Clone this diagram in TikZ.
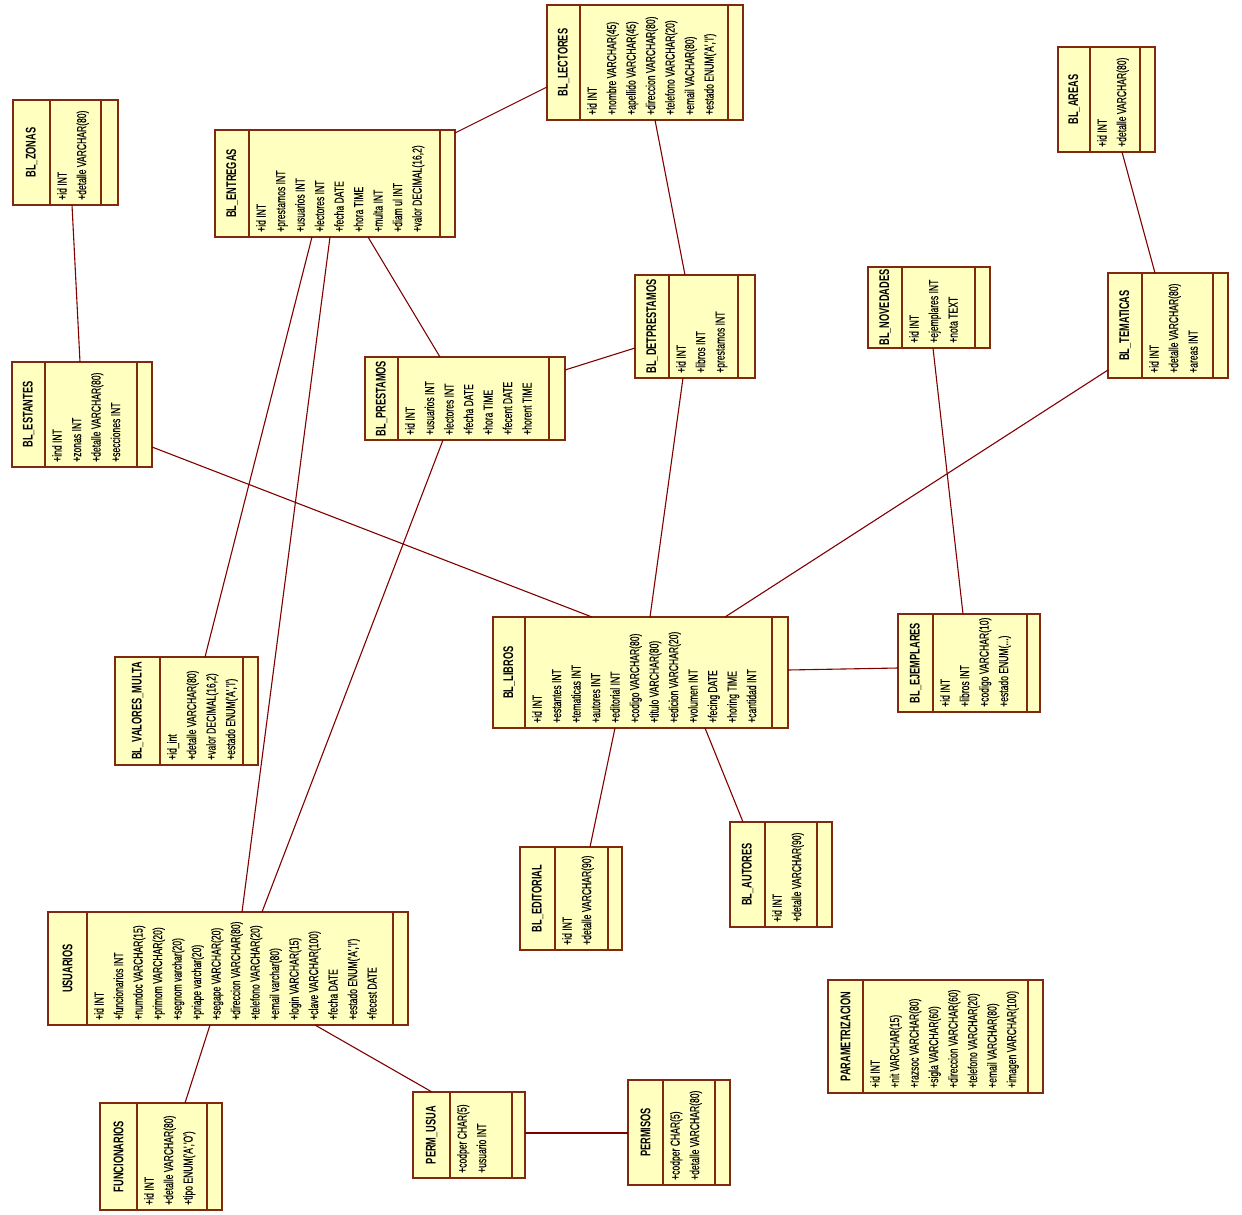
\documentclass[tikz,border=0pt]{standalone}
\usepackage{fontspec}
\newfontfamily\attrfont[FakeStretch=0.66, FakeBold=0.25]{Liberation Sans}
\newfontfamily\titlefont[FakeStretch=0.66]{Liberation Sans}
\definecolor{boxfill}{RGB}{255,255,192}
\definecolor{boxline}{RGB}{128,40,16}
\definecolor{connline}{RGB}{128,0,0}
\tikzset{
  classbox/.style={draw=boxline, fill=boxfill, line width=1.3pt, inner sep=0pt, outer sep=0pt},
  divline/.style={draw=boxline, line width=1.1pt},
  titletext/.style={rotate=90, inner sep=0pt, font={\titlefont\fontsize{14pt}{16pt}\selectfont\bfseries}},
  attrtext/.style={rotate=90, anchor=north west, align=left, inner sep=0pt, font={\attrfont\fontsize{13pt}{19.5pt}\selectfont}},
  conn/.style={draw=connline, line width=1.1pt}
}
% #1 name, #2 left, #3 top, #4 right, #5 bottom, #6 name divider, #7 ops divider, #8 title, #9 attributes
\newcommand\umlclass[9]{%
  \node[classbox, anchor=north west, minimum width={(#4-#2)*1pt}, minimum height={(#5-#3)*1pt}] (#1) at (#2,#3) {};
  \draw[divline] (#6,#3) -- (#6,#5);
  \draw[divline] (#7,#3) -- (#7,#5);
  \node[titletext] (#1-title) at ({(#2+#6)/2},{(#3+#5)/2}) {#8};
  \node[attrtext] (#1-attrs) at ({#6+7},{#5-5}) {#9};
}
\begin{document}
\begin{tikzpicture}[x=1pt,y=-1pt]
\fill[white] (0,0) rectangle (1242,1215);
\useasboundingbox (0,0) rectangle (1242,1215);

\umlclass{lect}{547}{5}{743}{120}{580}{728}{BL\_LECTORES}{+id INT\\+nombre VARCHAR(45)\\+apellido VARCHAR(45)\\+direccion VARCHAR(80)\\+telefono VARCHAR(20)\\+email VACHAR(80)\\+estado ENUM('A','I')}
\umlclass{entr}{215}{130}{455}{237}{249}{440}{BL\_ENTREGAS}{+id INT\\+prestamos INT\\+usuarios INT\\+lectores INT\\+fecha DATE\\+hora TIME\\+multa INT\\+diam ul INT\\+valor DECIMAL(16,2)}
\umlclass{zonas}{13}{100}{118}{205}{50}{101}{BL\_ZONAS}{+id INT\\+detalle VARCHAR(80)}
\umlclass{areas}{1058}{47}{1155}{152}{1090}{1140}{BL\_AREAS}{+id INT\\+detalle VARCHAR(80)}
\umlclass{prest}{365}{357}{565}{440}{398}{549}{BL\_PRESTAMOS}{+id INT\\+usuarios INT\\+lectores INT\\+fecha DATE\\+hora TIME\\+fecent DATE\\+horent TIME}
\umlclass{detp}{635}{275}{755}{378}{669}{738}{BL\_DETPRESTAMOS}{+id INT\\+libros INT\\+prestamos INT}
\umlclass{nov}{868}{267}{990}{348}{902}{975}{BL\_NOVEDADES}{+id INT\\+ejemplares INT\\+nota TEXT}
\umlclass{tem}{1108}{273}{1228}{378}{1142}{1213}{BL\_TEMATICAS}{+id INT\\+detalle VARCHAR(80)\\+areas INT}
\umlclass{est}{12}{362}{152}{467}{45}{137}{BL\_ESTANTES}{+ind INT\\+zonas INT\\+detalle VARCHAR(80)\\+secciones INT}
\umlclass{lib}{493}{617}{788}{728}{525}{772}{BL\_LIBROS}{+id INT\\+estantes INT\\+tematicas INT\\+autores INT\\+editorial INT\\+codigo VARCHAR(80)\\+titulo VARCHAR(80)\\+edicion VARCHAR(20)\\+volumen INT\\+fecing DATE\\+horing TIME\\+cantidad INT}
\umlclass{ejem}{898}{614}{1040}{712}{933}{1027}{BL\_EJEMPLARES}{+id INT\\+libros INT\\+codigo VARCHAR(10)\\+estado ENUM(...)}
\umlclass{vmul}{115}{657}{258}{765}{160}{243}{BL\_VALORES\_MULTA}{+id\_int\\+detalle VARCHAR(80)\\+valor DECIMAL(16,2)\\+estado ENUM('A','I')}
\umlclass{usu}{48}{912}{408}{1025}{87}{393}{USUARIOS}{+id INT\\+funcionarios INT\\+numdoc VARCHAR(15)\\+primom VARCHAR(20)\\+segnom varchar(20)\\+priape varchar(20)\\+segape VARCHAR(20)\\+direccion VARCHAR(80)\\+telefono VARCHAR(20)\\+email varchar(80)\\+login VARCHAR(15)\\+clave VARCHAR(100)\\+fecha DATE\\+estado ENUM('A','I')\\+fecest DATE}
\umlclass{func}{100}{1103}{222}{1210}{137}{207}{FUNCIONARIOS}{+id INT\\+detalle VARCHAR(80)\\+tipo ENUM('A','O')}
\umlclass{permu}{413}{1092}{525}{1178}{450}{512}{PERM\_USUA}{+codper CHAR(5)\\+usuario INT}
\umlclass{perm}{628}{1080}{730}{1185}{663}{715}{PERMISOS}{+codper CHAR(5)\\+detalle VARCHAR(80)}
\umlclass{param}{828}{980}{1043}{1093}{863}{1028}{PARAMETRIZACION}{+id INT\\+nit VARCHAR(15)\\+razsoc VARCHAR(80)\\+sigla VARCHAR(60)\\+direccion VARCHAR(60)\\+telefono VARCHAR(20)\\+email VARCHAR(80)\\+imagen VARCHAR(100)}
\umlclass{edit}{520}{847}{622}{950}{555}{608}{BL\_EDITORIAL}{+id INT\\+detalle VARCHAR(90)}
\umlclass{aut}{730}{822}{832}{927}{765}{817}{BL\_AUTORES}{+id INT\\+detalle VARCHAR(90)}

% connectors
\draw[conn] ([xshift=59pt]zonas.south west) -- ([xshift=68pt]est.north west);
\draw[conn] ([yshift=-85pt]est.north east) -- ([xshift=99pt]lib.north west);
\draw[conn] ([yshift=-3pt]entr.north east) -- ([yshift=-82pt]lect.north west);
\draw[conn] ([xshift=108pt]lect.south west) -- ([xshift=50pt]detp.north west);
\draw[conn] ([xshift=153pt]entr.south west) -- ([xshift=75pt]prest.north west);
\draw[conn] ([xshift=97pt]entr.south west) -- ([xshift=90pt]vmul.north west);
\draw[conn] ([xshift=115pt]entr.south west) -- ([xshift=194pt]usu.north west);
\draw[conn] ([xshift=78pt]prest.south west) -- ([xshift=214pt]usu.north west);
\draw[conn] ([yshift=-13pt]prest.north east) -- ([yshift=-73pt]detp.north west);
\draw[conn] ([xshift=48pt]detp.south west) -- ([xshift=157pt]lib.north west);
\draw[conn] ([xshift=47pt]tem.north west) -- ([xshift=64pt]areas.south west);
\draw[conn] ([yshift=-97pt]tem.north west) -- ([xshift=232pt]lib.north west);
\draw[conn] ([xshift=65pt]nov.south west) -- ([xshift=65pt]ejem.north west);
\draw[conn] ([yshift=-53pt]lib.north east) -- ([yshift=-54pt]ejem.north west);
\draw[conn] ([xshift=122pt]lib.south west) -- ([xshift=70pt]edit.north west);
\draw[conn] ([xshift=212pt]lib.south west) -- ([xshift=13pt]aut.north west);
\draw[conn] ([xshift=162pt]usu.south west) -- ([xshift=85pt]func.north west);
\draw[conn] ([xshift=267pt]usu.south west) -- ([xshift=19pt]permu.north west);
\draw[conn] ([yshift=-41pt]permu.north east) -- ([yshift=-53pt]perm.north west);
\end{tikzpicture}
\end{document}
